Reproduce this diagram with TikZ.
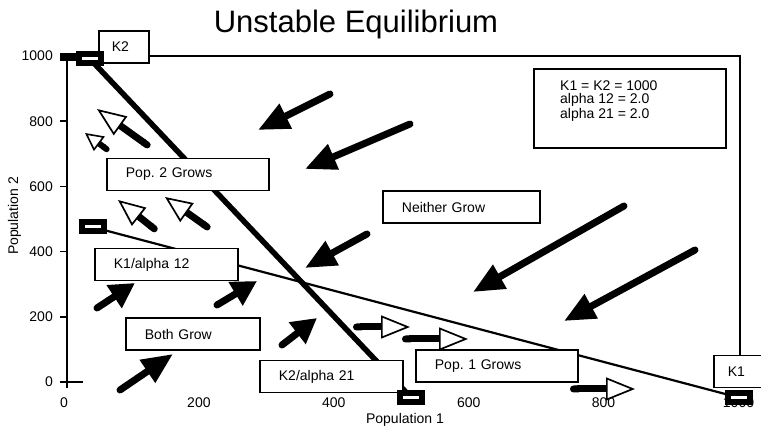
\documentclass[tikz,border=0pt]{standalone}
\usepackage{fontspec}
\setmainfont{Liberation Sans}
\usetikzlibrary{arrows.meta,positioning,calc}
\frenchspacing

\newcommand{\lblfont}{\fontsize{14}{13}\selectfont}

\tikzset{
  box/.style={draw, fill=white, line width=1.8pt, minimum height=32pt, inner xsep=19pt, inner ysep=0pt, align=left, anchor=west, font=\lblfont},
  marker/.style={draw, fill=white, line width=6pt, minimum width=22pt, minimum height=9pt, inner sep=0pt},
  blackarrow/.style={line width=7pt, line cap=round, -{Triangle[length=#1, width=26pt]}},
  blackarrow/.default=31pt,
  whitearrow/.style={line width=7pt, {Round Cap[]}-{Triangle[fill=white, line width=1.7pt, length=#1, width=23pt]}},
  whitearrow/.default=29pt
}

\begin{document}
\begin{tikzpicture}[x=1pt,y=-1pt]
\clip (0,0) rectangle (761,430);
\node[font=\fontsize{31}{31}\selectfont, anchor=base] (title) at (356,33) {Unstable Equilibrium}; %title

% axes
\draw[line width=1.8pt] (67,56) -- (67,388);
\foreach \v in {0,200,...,1000} {
  \pgfmathsetmacro\py{382-0.326*\v}
  \pgfmathsetmacro\px{64+0.6745*\v}
  \draw[line width=1.6pt] (60,\py) -- (67,\py);
  \node[anchor=east, inner sep=0pt, font=\lblfont] (ytick\v) at (53,\py) {\v};
  \node[inner sep=0pt, font=\lblfont] (xtick\v) at (\px,403) {\v};
}
\draw[line width=1.6pt] (60,382) -- (83,382);
\draw[line width=8pt] (60,57.5) -- (76,57.5);
\node[font=\lblfont, anchor=base] (xlabel) at (405,424) {Population 1}; %label
\node[font=\lblfont, anchor=base, rotate=90] (ylabel) at (18,216) {Population 2}; %label

% isoclines
\coordinate (k2pt) at (90,59);
\coordinate (k1a12pt) at (92.5,227);
\coordinate (k2a21pt) at (411,397.5);
\coordinate (k1pt) at (738.5,397.5);
\draw[line width=5.5pt] (k2pt) -- (k2a21pt);
\draw[line width=2.2pt] (k1a12pt) -- (k1pt);

% boxes
\node[box, text width=124pt] (pop2) at (106,174.5) {Pop. 2 Grows};
\node[box, text width=105pt] (k1a12box) at (94,264.5) {K1/alpha 12};
\node[box, text width=96pt] (both) at (125,334) {Both Grow};
\node[box, text width=105pt] (k2a21box) at (259,376.5) {K2/alpha 21};
\node[box, text width=124pt] (pop1) at (415,366) {Pop. 1 Grows};
\node[box, text width=119pt] (neither) at (382,207) {Neither Grow};
\node[box, text width=24pt, inner xsep=13pt] (k2box) at (98,47) {K2};
\node[box, text width=40pt, inner xsep=14pt] (k1box) at (713,371.5) {K1};
\node[box, minimum width=192pt, minimum height=79pt, anchor=north west] (params) at (533,68) {};
\node[anchor=north west, inner sep=0pt, align=left, font=\lblfont] (paramtext) at ([shift={(27pt,-13pt)}]params.north west) {K1 = K2 = 1000\\alpha 12 = 2.0\\alpha 21 = 2.0};

% frame
\coordinate (frametr) at (740,56);
\draw[line width=1.8pt] (k2box.east |- frametr) -- (frametr) -- (frametr |- k1box.north);

% markers
\node[marker] (k2mark) at (k2pt) {};
\node[marker] (k1a12mark) at (k1a12pt) {};
\node[marker] (k2a21mark) at (k2a21pt) {};
\node[marker] (k1mark) at (k1pt) {};

% neither grows
\draw[blackarrow] (330,94) -- (258,130);
\draw[blackarrow] (410,124) -- (305,169);
\draw[blackarrow] (367,234) -- (305,268);
\draw[blackarrow] (624,206) -- (473,292);
\draw[blackarrow] (695,250) -- (564,321);
% both grow
\draw[blackarrow=25pt] (97,308) -- (135,283);
\draw[blackarrow=25pt] (217,305) -- (257,281);
\draw[blackarrow=25pt] (282,345) -- (317,318);
\draw[blackarrow] (120,390) -- (173,354);

% pop 2 grows
\draw[whitearrow] (150,147) -- (97,109);
\draw[line width=6pt, {Round Cap[]}-{Triangle[fill=white, line width=1.6pt, length=18pt, width=18pt]}] (109,151) -- (85,133);
\draw[whitearrow=27pt] (157,231) -- (118,200);
\draw[whitearrow=27pt] (210,229) -- (165,197);
% pop 1 grows
\draw[whitearrow] (353,327) -- (410,327);
\draw[whitearrow] (402,339) -- (468,339);
\draw[whitearrow] (570,389) -- (635,389);
\end{tikzpicture}
\end{document}
